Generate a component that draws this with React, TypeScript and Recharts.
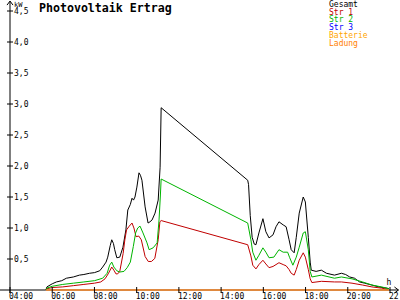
import React from 'react';
import { LineChart, Line, XAxis, YAxis, ReferenceLine, ReferenceDot, Legend } from 'recharts';

const hourTicks = [4, 6, 8, 10, 12, 14, 16, 18, 20, 22];
const kwTicks = [0.5, 1, 1.5, 2, 2.5, 3, 3.5, 4, 4.5];

// [hour, kW]
const gesamt: [number, number][] = [
  [5.7, 0], [5.75, 0.05], [6.0, 0.1], [6.2, 0.13], [6.45, 0.15], [6.67, 0.19], [7.0, 0.21], [7.29, 0.24],
  [7.5, 0.25], [7.77, 0.27], [8.0, 0.28], [8.25, 0.31], [8.39, 0.37], [8.55, 0.45], [8.63, 0.53],
  [8.75, 0.72], [8.82, 0.81], [8.9, 0.75], [8.96, 0.65], [9.06, 0.52], [9.2, 0.53], [9.35, 0.69],
  [9.49, 0.97], [9.58, 1.29], [9.7, 1.38], [9.78, 1.48], [9.85, 1.45], [9.92, 1.5], [10.01, 1.66],
  [10.11, 1.89], [10.18, 1.85], [10.25, 1.77], [10.4, 1.34], [10.54, 1.08], [10.63, 1.1], [10.73, 1.13],
  [10.87, 1.24], [11.02, 1.45], [11.11, 1.98], [11.16, 2.94], [15.26, 1.77], [15.3, 1.7], [15.38, 1.2],
  [15.47, 0.85], [15.57, 0.74], [15.65, 0.73], [15.79, 0.92], [15.98, 1.15], [16.12, 0.94], [16.27, 0.84],
  [16.46, 0.89], [16.6, 1.02], [16.74, 1.1], [16.94, 1.05], [17.08, 1.02], [17.22, 0.81], [17.32, 0.65],
  [17.46, 0.6], [17.56, 0.85], [17.7, 1.24], [17.89, 1.5], [17.99, 1.42], [18.13, 0.85], [18.22, 0.45],
  [18.27, 0.32], [18.5, 0.3], [18.75, 0.32], [18.99, 0.27], [19.37, 0.24], [19.7, 0.27], [19.9, 0.25],
  [20.09, 0.21], [20.32, 0.19], [20.56, 0.13], [20.8, 0.11], [21.14, 0.08], [21.47, 0.05], [21.85, 0.03],
  [21.95, 0.02],
];

const str1: [number, number][] = [
  [5.7, 0], [5.75, 0.02], [6.0, 0.04], [6.5, 0.05], [7.0, 0.07], [7.5, 0.09], [8.0, 0.11], [8.3, 0.13],
  [8.5, 0.18], [8.65, 0.26], [8.82, 0.37], [8.92, 0.32], [9.02, 0.26], [9.1, 0.26], [9.2, 0.3],
  [9.36, 0.59], [9.44, 0.81], [9.52, 0.97], [9.65, 1.03], [9.78, 1.08], [9.87, 1.0], [9.97, 0.86],
  [10.1, 0.87], [10.22, 0.81], [10.4, 0.54], [10.55, 0.46], [10.7, 0.46], [10.86, 0.51], [11.02, 0.81],
  [11.1, 1.1], [11.16, 1.12], [15.26, 0.73], [15.41, 0.55], [15.5, 0.4], [15.65, 0.34], [15.79, 0.41],
  [15.98, 0.48], [16.12, 0.42], [16.27, 0.36], [16.46, 0.38], [16.74, 0.44], [16.94, 0.41], [17.08, 0.39],
  [17.22, 0.33], [17.32, 0.27], [17.46, 0.24], [17.56, 0.33], [17.7, 0.48], [17.89, 0.6], [17.99, 0.53],
  [18.13, 0.33], [18.22, 0.18], [18.3, 0.12], [18.75, 0.14], [19.37, 0.13], [19.7, 0.13], [20.2, 0.11],
  [20.7, 0.08], [21.14, 0.05], [21.6, 0.03], [21.9, 0.01],
];

const str2: [number, number][] = [
  [5.7, 0], [5.75, 0.03], [6.0, 0.06], [6.5, 0.09], [7.0, 0.11], [7.5, 0.13], [8.0, 0.15], [8.39, 0.19],
  [8.6, 0.27], [8.72, 0.4], [8.82, 0.45], [8.92, 0.37], [9.06, 0.31], [9.2, 0.29], [9.4, 0.3], [9.55, 0.36],
  [9.7, 0.45], [9.84, 0.7], [9.95, 0.92], [10.05, 1.0], [10.16, 1.03], [10.3, 0.92], [10.49, 0.76],
  [10.59, 0.65], [10.78, 0.68], [10.97, 0.76], [11.06, 1.13], [11.12, 1.5], [11.16, 1.79], [15.26, 1.08],
  [15.41, 0.81], [15.5, 0.61], [15.65, 0.48], [15.79, 0.56], [15.98, 0.68], [16.12, 0.61], [16.27, 0.52],
  [16.5, 0.53], [16.74, 0.65], [16.94, 0.61], [17.15, 0.61], [17.25, 0.52], [17.4, 0.4], [17.56, 0.53],
  [17.7, 0.69], [17.89, 0.92], [17.99, 0.94], [18.13, 0.65], [18.22, 0.3], [18.3, 0.21], [18.75, 0.24],
  [19.37, 0.19], [19.7, 0.21], [20.2, 0.18], [20.7, 0.13], [21.14, 0.08], [21.6, 0.05], [21.95, 0.02],
];

const str3: [number, number][] = [[5.7, 0], [21.95, 0]];
const batterie: [number, number][] = [[5.7, 0], [21.95, 0]];
const ladung: [number, number][] = [[5.7, 0], [21.95, 0]];

const seriesNames = ['Gesamt', 'Str 1', 'Str 2', 'Str 3', 'Batterie', 'Ladung'];
const seriesColors = ['#000000', '#c00000', '#00b400', '#0000ff', '#ffa500', '#ff8000'];
const seriesData = [gesamt, str1, str2, str3, batterie, ladung];

const FONT = '"DejaVu Sans Mono", monospace';

const toRows = (pts: [number, number][]) => pts.map(([t, v]) => ({ t, v }));
const fmtHour = (v: number) => `${String(v).padStart(2, '0')}:00`;
const fmtKw = (v: number) => v.toFixed(1).replace('.', ',');

const XTick = (props: any) => {
  const { x, y, payload } = props;
  return (
    <g>
      <line x1={x} x2={x} y1={y - 3} y2={y + 3} stroke="#000" />
      <text x={x - 1} y={y + 8.5} fontSize={8} fontFamily={FONT} fill="#000" textAnchor="start">
        {fmtHour(payload.value)}
      </text>
    </g>
  );
};

const YTick = (props: any) => {
  const { x, y, payload } = props;
  return (
    <g>
      <line x1={x - 3} x2={x + 3} y1={y} y2={y} stroke="#000" />
      <text x={x + 4} y={y + 3} fontSize={8} fontFamily={FONT} fill="#000" textAnchor="start">
        {fmtKw(payload.value)}
      </text>
    </g>
  );
};

const XArrow = (props: any) => {
  const { cx, cy } = props;
  return (
    <g>
      <path d={`M${cx - 4},${cy - 3}L${cx},${cy}L${cx - 4},${cy + 3}`} fill="none" stroke="#000" />
      <text x={cx - 12} y={cy - 5} fontSize={8} fontFamily={FONT} fill="#000">h</text>
    </g>
  );
};

const YArrow = (props: any) => {
  const { cx, cy } = props;
  return (
    <g>
      <path d={`M${cx - 3},${cy + 4}L${cx},${cy}L${cx + 3},${cy + 4}`} fill="none" stroke="#000" />
      <text x={cx + 4} y={cy + 5.5} fontSize={7} fontFamily={FONT} fill="#000">kW</text>
    </g>
  );
};

const LegendContent = () => (
  <div style={{ fontFamily: FONT, fontSize: 8, lineHeight: '7.7px' }}>
    {seriesNames.map((n, i) => (
      <div key={n} style={{ color: seriesColors[i], whiteSpace: 'nowrap' }}>{n}</div>
    ))}
  </div>
);

export default function App() {
  return (
    <div style={{ position: 'absolute', left: 0, top: 0, width: 400, height: 300, background: '#fff' }}>
      <LineChart width={400} height={300} margin={{ top: 11, right: 10, bottom: 0, left: 0 }}>
        <XAxis
          type="number"
          dataKey="t"
          domain={[4, 22]}
          ticks={hourTicks}
          interval={0}
          height={10}
          tickSize={0}
          tickMargin={0}
          axisLine={false}
          tickLine={false}
          tick={<XTick />}
        />
        <YAxis
          type="number"
          domain={[0, 4.5]}
          ticks={kwTicks}
          interval={0}
          width={10}
          tickSize={0}
          tickMargin={0}
          axisLine={false}
          tickLine={false}
          tick={<YTick />}
        />
        <ReferenceLine segment={[{ x: 3.52, y: 0 }, { x: 5.7, y: 0 }]} stroke="#000" ifOverflow="visible" />
        <ReferenceLine segment={[{ x: 21.95, y: 0 }, { x: 22.4, y: 0 }]} stroke="#000" ifOverflow="visible" />
        <ReferenceLine segment={[{ x: 4, y: -0.05 }, { x: 4, y: 4.66 }]} stroke="#000" ifOverflow="visible" />
        <ReferenceDot x={22.4} y={0} r={0} ifOverflow="visible" shape={<XArrow />} />
        <ReferenceDot x={4} y={4.66} r={0} ifOverflow="visible" shape={<YArrow />} />
        {seriesData.map((d, i) => (
          <Line
            key={seriesNames[i]}
            name={seriesNames[i]}
            data={toRows(d)}
            dataKey="v"
            type="linear"
            stroke={seriesColors[i]}
            strokeWidth={1}
            dot={false}
            activeDot={false}
            isAnimationActive={false}
          />
        ))}
        <Legend
          layout="vertical"
          align="center"
          verticalAlign="middle"
          content={<LegendContent />}
          wrapperStyle={{ top: 1, left: 329, width: 70 }}
        />
      </LineChart>
      <div
        style={{
          position: 'absolute',
          left: 39,
          top: 2,
          fontFamily: FONT,
          fontWeight: 'bold',
          fontSize: 11.6,
          lineHeight: '12px',
          color: '#000',
          whiteSpace: 'nowrap',
        }}
      >
        Photovoltaik Ertrag
      </div>
    </div>
  );
}
